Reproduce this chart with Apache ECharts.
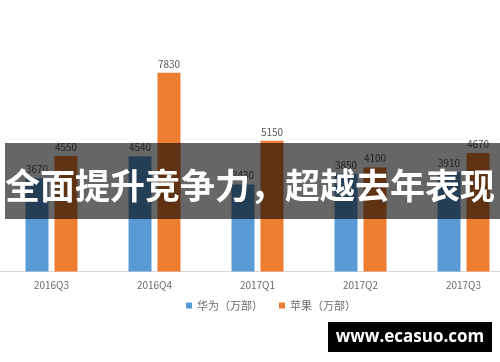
<!DOCTYPE html>
<html><head><meta charset="utf-8">
<script src="https://cdn.jsdelivr.net/npm/echarts@6/dist/echarts.min.js"></script>
<style>html,body{margin:0;padding:0;background:#fff}#c{width:500px;height:362px}</style>
</head><body><div id="c"></div>
<script>
const categories = ['2016Q3','2016Q4','2017Q1','2017Q2','2017Q3'];
const huawei = [3670, 4540, 3430, 3850, 3910];
const apple = [4550, 7830, 5150, 4100, 4670];
const seriesNames = ['华为（万部）','苹果（万部）'];
const bannerText = '全面提升竞争力，超越去年表现';
const watermarkText = 'www.ecasuo.com';

const chart = echarts.init(document.getElementById('c'));
const lbl = {show:true, position:'top', distance:4, color:'#595959', fontSize:10, fontFamily:'Noto Sans CJK SC'};
chart.setOption({
  animation:false,
  textStyle:{fontFamily:'Noto Sans CJK SC'},
  grid:{left:0, width:515, top:68.5, bottom:90.5, containLabel:false, outerBoundsMode:'none'},
  legend:{left:181, top:295, itemWidth:6, itemHeight:6, itemGap:16, icon:'rect',
    textStyle:{color:'#6b6b6b', fontSize:11}, data:seriesNames},
  xAxis:{type:'category', data:categories, axisTick:{show:false},
    axisLine:{lineStyle:{color:'#d9d9d9'}},
    axisLabel:{color:'#6b6b6b', fontSize:10, margin:9}},
  yAxis:{type:'value', min:0, max:8000, show:false, splitLine:{show:false}},
  series:[
    {name:seriesNames[0], type:'bar', data:huawei, barWidth:23, barGap:'26%', itemStyle:{color:'#5B9BD5'}, label:lbl},
    {name:seriesNames[1], type:'bar', data:apple, barWidth:23, barGap:'26%', itemStyle:{color:'#ED7D31'}, label:lbl}
  ],
  graphic:[
    {type:'rect', z:100, shape:{x:5, y:143, width:495, height:76}, style:{fill:'rgba(0,0,0,0.6)'}},
    {type:'text', z:101, x:250, y:186, style:{text:bannerText, fill:'#fff', fontSize:35, fontWeight:'bold',
      fontFamily:'Noto Sans CJK SC', align:'center', verticalAlign:'middle'}},
    {type:'rect', z:100, shape:{x:328, y:322, width:164, height:30}, style:{fill:'#000'}},
    {type:'text', z:101, x:410, y:337, style:{text:watermarkText, fill:'#fff', fontSize:17, fontWeight:'bold',
      fontFamily:'Open Sans', align:'center', verticalAlign:'middle'}}
  ]
});
</script></body></html>
